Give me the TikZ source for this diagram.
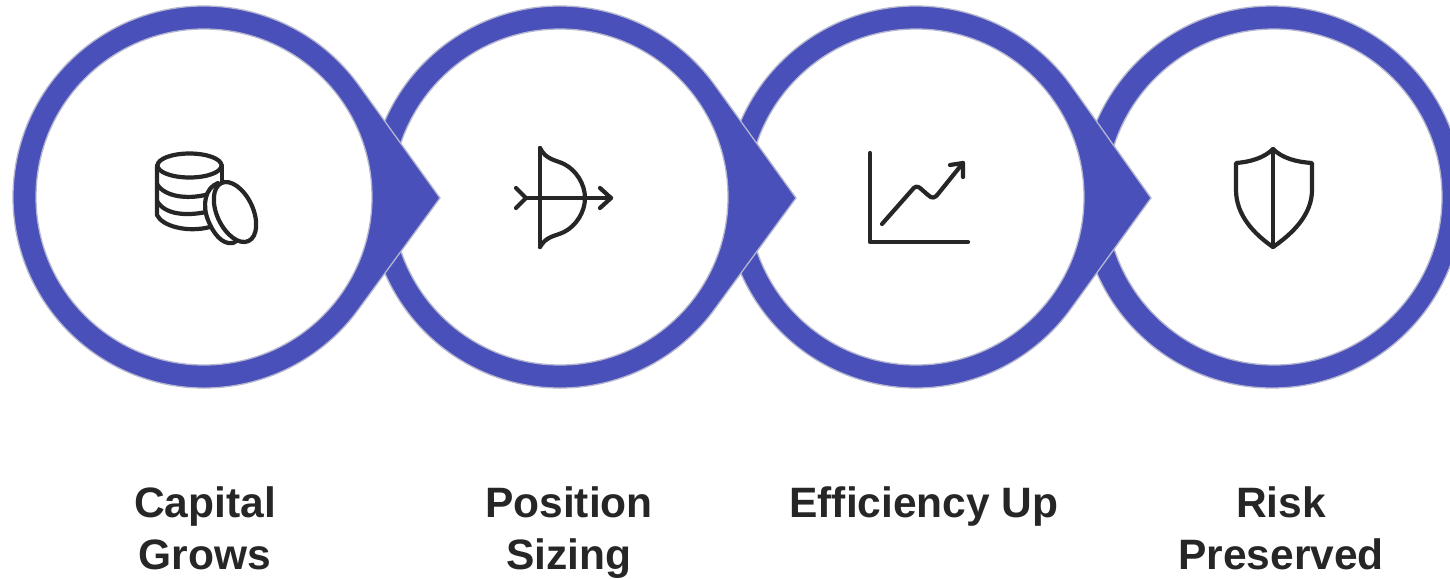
\documentclass[tikz,border=0pt]{standalone}
\usepackage{fontspec}
\setmainfont{Liberation Sans}
\definecolor{ringblue}{HTML}{4A50BA}
\definecolor{ringedge}{HTML}{B4B6D0}
\definecolor{inkdark}{HTML}{262626}
\tikzset{
  drop/.style={fill=ringblue,draw=ringedge,line width=1.3pt,line join=miter},
  hole/.style={circle,fill=white,draw=ringedge,line width=1.3pt,inner sep=0pt,minimum size=336pt},
  icon/.style={draw=inkdark,line width=4.2pt,line cap=round,line join=round},
  caption/.style={font=\bfseries\fontsize{42.5}{52}\selectfont,text=inkdark,align=center,anchor=north,inner sep=0pt}
}
\begin{document}
\begin{tikzpicture}[x=1pt,y=-1pt]
\useasboundingbox (0,0) rectangle (1450,579);
\clip (0,0) rectangle (1450,579);
\fill[white] (0,0) rectangle (1450,579);
% rings, right to left so that each point lies over the next ring
\draw[drop] (1272,197) circle[radius=191];
\node[hole] (c4) at (1274,197) {};
\foreach \cx/\tx/\nm in {916/1151/c3,560/796/c2,204/440/c1}{
  \draw[drop] (\tx,198) -- ({\cx+191*cos(36)},{197-191*sin(36)})
     arc[start angle=-36,delta angle=-288,radius=191] -- cycle;
  \node[hole] (\nm) at (\cx,197) {};
}
% icon 1: stack and coin
\draw[icon] (189.5,165.5) ellipse[x radius=32,y radius=12];
\draw[icon] (157,165.5) -- (157,215) .. controls (162,226) and (187,233) .. (210,227);
\draw[icon] (157,184) .. controls (165,198) and (192,200) .. (212,193);
\draw[icon] (157,201) .. controls (165,215) and (187,216) .. (206,212);
\draw[icon] (222,165.5) -- (222,181);
\draw[icon,fill=white] (218,183) .. controls (205,188) and (202,205) .. (208,220)
   .. controls (213,233) and (222,245) .. (233,243) -- (242,238) -- cycle;
\draw[icon,fill=white,rotate around={25:(235,212)}] (235,212) ellipse[x radius=18,y radius=32];
% icon 2: bow and arrow
\draw[icon] (540,148) -- (540,247);
\draw[icon] (540,148) .. controls (546,160) and (556,160) .. (564,164)
   .. controls (576,170) and (585,184) .. (585,198)
   .. controls (585,212) and (576,226) .. (564,232)
   .. controls (556,236) and (546,236) .. (540,247);
\draw[icon] (526,198) -- (611,198);
\draw[icon] (516,188) -- (526,198) -- (516,208);
\draw[icon] (600,188) -- (611,198) -- (600,208);
% icon 3: chart
\draw[icon] (870,153) -- (870,242) -- (968,242);
\draw[icon] (882,224) -- (912,190) .. controls (915,186) and (917,186) .. (920,188)
   -- (928,195) .. controls (932,199) and (935,198) .. (938,194) -- (963,163);
\draw[icon] (950,165) -- (963,163) -- (963,177);
% icon 4: shield
\draw[icon] (1273,149) -- (1273,247);
\draw[icon] (1273,149) .. controls (1264,158) and (1250,162) .. (1236,163)
   -- (1236,190) .. controls (1236,215) and (1254,234) .. (1273,247)
   .. controls (1292,234) and (1312,215) .. (1312,190)
   -- (1312,163) .. controls (1296,162) and (1282,158) .. (1273,149) -- cycle;
% captions
\node[caption] (t1) at (205,486.5) {Capital\\Grows};
\node[caption] (t2) at (569,486.5) {Position\\Sizing};
\node[caption] (t3) at (924,486.5) {Efficiency Up};
\node[caption] (t4) at (1281,486.5) {Risk\\Preserved};
\end{tikzpicture}
\end{document}
